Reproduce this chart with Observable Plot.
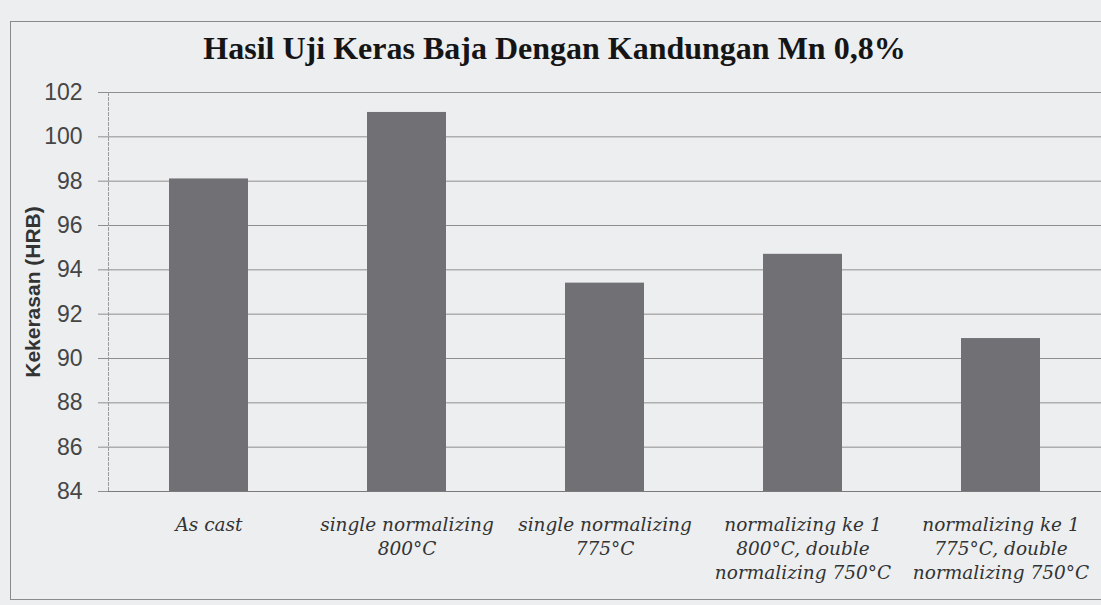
<!DOCTYPE html>
<html><head><meta charset="utf-8">
<script src="https://cdn.jsdelivr.net/npm/d3@7"></script>
<script src="https://cdn.jsdelivr.net/npm/@observablehq/plot@0.6"></script>
<style>
html,body{margin:0;padding:0;background:#eceef0;}
#wrap{position:relative;width:1101px;height:605px;overflow:hidden;}
#border{position:absolute;left:10px;top:21px;width:1100px;height:577px;border:1px solid #8a8a8a;border-right:none;}
#title{position:absolute;left:4px;width:1101px;top:30px;text-align:center;font:bold 32px "Liberation Serif";color:#151515;white-space:nowrap;}
#chart{position:absolute;left:0;top:0;}
</style></head><body>
<div id="wrap"><div id="border"></div><div id="title"></div><div id="chart"></div></div>
<script>
const titleText = "Hasil Uji Keras Baja Dengan Kandungan Mn 0,8%";
const yLabel = "Kekerasan (HRB)";
const categories = [
  "As cast",
  "single normalizing\n800°C",
  "single normalizing\n775°C",
  "normalizing ke 1\n800°C, double\nnormalizing 750°C",
  "normalizing ke 1\n775°C, double\nnormalizing 750°C"
];
const hardness = [98.1, 101.1, 93.4, 94.7, 90.9];
const yTicks = [84, 86, 88, 90, 92, 94, 96, 98, 100, 102];
const yDomain = [84, 102];

document.getElementById("title").textContent = titleText;
const data = categories.map((c, i) => ({cat: c, v: hardness[i]}));

const chart = Plot.plot({
  width: 1101, height: 605,
  marginTop: 92, marginBottom: 114, marginLeft: 108, marginRight: 0,
  style: {background: "transparent", fontFamily: "Liberation Sans", overflow: "visible"},
  x: {domain: categories, paddingInner: 0.6, paddingOuter: 0.3, label: null},
  y: {domain: yDomain, label: null},
  marks: [
    Plot.gridY(yTicks, {stroke: "#8e8e8e", strokeOpacity: 1}),
    Plot.barY(data, {x: "cat", y1: yDomain[0], y2: "v", fill: "#717175"}),
    Plot.axisY(yTicks, {tickSize: 10, tickPadding: 16, fontSize: 23, color: "#454545", stroke: "#8e8e8e", label: null}),
    Plot.ruleY([yDomain[0]], {stroke: "#7a7a7a"}),
    Plot.frame({anchor: "left", stroke: "#9a9a9a", strokeDasharray: "3,2"}),
    Plot.axisX({tickSize: 0, tickPadding: 22, fontSize: 18.5, fontStyle: "italic", fontFamily: "DejaVu Serif", lineHeight: 1.3, color: "#333", label: null}),
    Plot.text([yLabel], {frameAnchor: "left", dx: -75, rotate: -90, textAnchor: "middle", fontSize: 21, fontWeight: "bold", fill: "#333", fontFamily: "Liberation Sans"})
  ]
});
document.getElementById("chart").appendChild(chart);
</script>
</body></html>
